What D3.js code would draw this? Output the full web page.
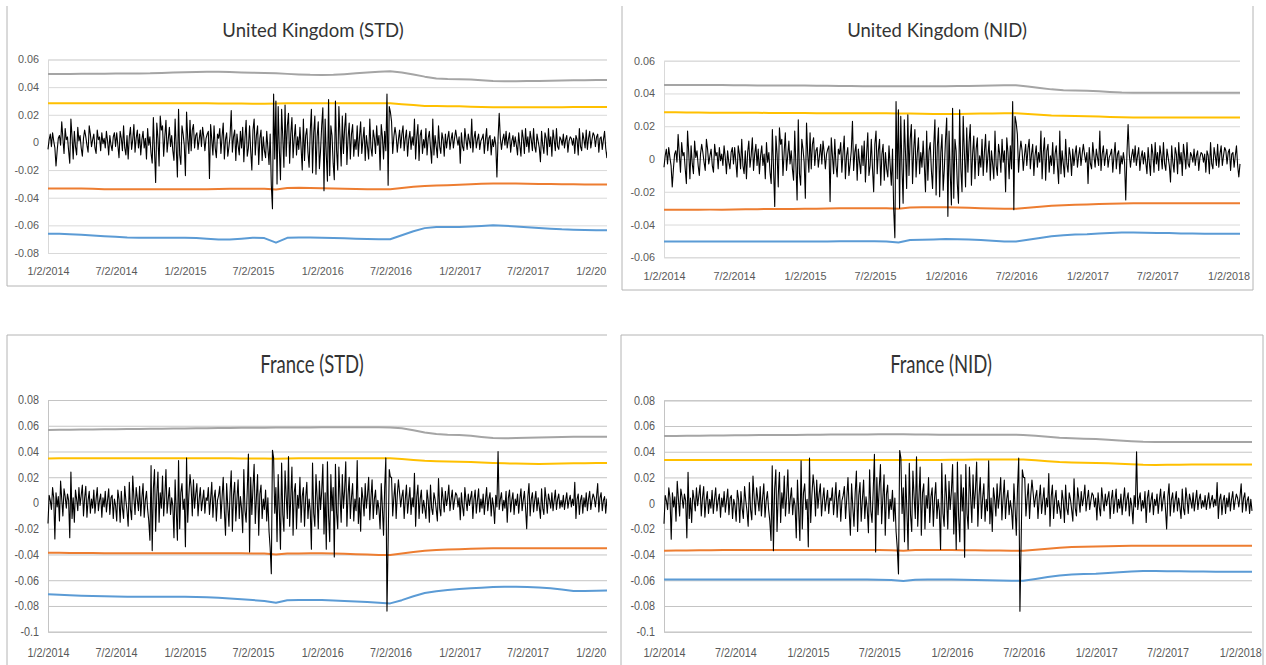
<!DOCTYPE html>
<html>
<head>
<meta charset="utf-8">
<script src="https://cdn.jsdelivr.net/npm/d3@7"></script>
<style>
  body { margin: 0; background: #fff; }
  svg { display: block; font-family: Lato, "Open Sans", sans-serif; }
</style>
</head>
<body>
<svg id="chart" width="1266" height="665"></svg>
<script>
// ---- data ----
const startDate = new Date(2014, 0, 2);
const endDate = new Date(2018, 1, 1);
const xTickLabels = ["1/2/2014", "7/2/2014", "1/2/2015", "7/2/2015", "1/2/2016",
                     "7/2/2016", "1/2/2017", "7/2/2017", "1/2/2018"];
const yTicksUkStd = [-0.08, -0.06, -0.04, -0.02, 0, 0.02, 0.04, 0.06];
const yTicksUkNid = [-0.06, -0.04, -0.02, 0, 0.02, 0.04, 0.06];
const yTicksFr = [-0.1, -0.08, -0.06, -0.04, -0.02, 0, 0.02, 0.04, 0.06, 0.08];

// daily returns (10 per month, Jan 2014 .. Jan 2018)
const ukReturns = [
  -.005, .002, .006, -.003, .007, .001, -.004, -.017, -.006, .003,
  .005, -.002, .015, .003, -.008, .010, .002, .004, -.006, -.015,
  .017, .004, -.012, .008, -.003, -.009, .011, .001, .005, -.004,
  -.010, .003, .009, .004, -.002, -.007, .012, .006, -.003, .002,
  .006, -.004, -.008, .009, .002, .004, -.006, .007, -.001, .003,
  -.004, .008, .001, -.009, .005, -.002, -.006, .004, .007, -.003,
  .007, -.002, -.011, .008, .003, -.006, .012, -.004, -.009, .005,
  -.012, .004, .011, -.005, .002, .013, -.007, .003, .009, -.004,
  .006, -.009, .002, .008, -.004, .003, -.012, .010, -.002, .004,
  -.008, -.015, .018, -.006, -.029, .014, .003, -.017, .019, .009,
  .012, -.010, .004, .016, -.007, .002, .011, -.003, .005, -.006,
  -.013, .017, -.004, -.025, .024, -.009, -.016, .012, .006, -.002,
  -.024, .022, .003, -.008, .016, -.006, .009, .013, -.004, .005,
  .007, -.005, .002, .009, -.003, .011, .004, -.006, .003, .006,
  .008, -.026, .013, .002, -.009, .012, -.004, -.011, .006, .003,
  .010, -.008, .004, .014, -.012, .002, .007, -.010, -.003, .005,
  .023, -.007, .004, .009, -.013, .006, -.002, -.009, .008, -.004,
  .011, -.014, .003, .016, -.010, -.004, .012, -.006, -.020, .009,
  .017, -.009, .005, .012, -.016, .003, .009, -.013, .004, -.006,
  -.011, .008, -.004, -.016, .006, -.031, -.048, .035, -.012, .030,
  -.030, .026, -.005, -.027, .024, .004, -.018, .027, -.010, .012,
  .021, -.015, .006, .018, -.011, .003, .013, -.009, .004, -.005,
  .011, -.004, -.020, .017, -.013, .005, .010, -.007, -.018, .008,
  .024, -.022, .007, .019, -.023, .004, .015, -.019, -.006, .012,
  .025, -.035, .017, -.009, -.028, .031, -.024, .012, .005, -.015,
  -.027, .030, -.006, -.020, .026, .004, -.017, .019, -.008, .010,
  .021, -.016, .003, .014, -.012, .006, .013, -.010, .002, -.005,
  .012, -.010, .004, .015, -.008, .002, .011, -.013, .005, -.003,
  -.012, .017, -.004, -.010, .009, .003, -.008, .012, -.002, .005,
  -.020, .013, .004, -.012, .008, -.006, .035, -.031, .026, .022,
  .015, -.008, .004, .011, .005, -.007, .002, .009, -.004, .006,
  .012, -.006, .003, .009, -.010, .002, .008, -.005, .004, -.002,
  .017, -.012, .004, .013, -.013, .005, .009, -.008, .002, -.004,
  .010, -.009, .003, .008, -.004, -.015, .017, -.009, .005, -.003,
  -.011, .012, -.003, -.008, .007, .002, -.010, .006, -.004, .003,
  .008, -.005, .002, .007, -.004, .003, .009, .003, -.002, .004,
  -.015, .007, -.003, -.006, .010, .002, -.005, .006, .001, -.004,
  .017, -.007, .003, .008, -.004, .002, .006, -.005, .001, .003,
  .006, -.008, .002, .010, -.006, .003, .005, -.009, .002, -.003,
  .004, -.002, -.025, .003, .021, .003, -.005, .002, .006, -.002,
  .008, -.004, .002, .007, -.007, .001, .005, -.003, .004, -.002,
  -.009, .007, -.002, -.010, .009, .003, -.008, .010, -.003, .004,
  -.007, .008, .002, -.006, .010, -.003, -.007, .006, .001, -.004,
  -.014, .008, -.002, -.008, .007, .003, -.009, .010, -.003, .004,
  -.010, .009, .002, -.006, .010, -.003, -.005, .004, .002, -.002,
  .006, -.004, .002, .005, -.007, .001, .004, .003, -.002, .003,
  -.008, .005, .002, -.009, .010, -.003, -.006, .007, .002, -.004,
  .009, -.005, .003, .008, -.004, .002, .007, .005, -.003, .004,
  .006, -.007, .003, .004, -.005, .002, .008, -.004, -.011, -.003
];
const frReturns = [
  -.016, .006, .002, -.005, .012, .004, -.028, .008, -.003, .005,
  -.014, .017, .003, -.010, .011, .005, -.004, .007, .002, -.027,
  .024, -.012, .004, -.015, .010, .003, -.006, .012, -.002, .006,
  .014, -.010, .004, .013, -.011, .002, .009, -.008, .003, -.004,
  .010, -.008, .003, .012, -.006, .002, .007, -.011, .004, -.003,
  .009, -.007, .002, .011, -.009, .004, .006, -.012, .003, -.002,
  -.014, .010, .003, -.015, .009, -.004, -.012, .013, .002, -.006,
  -.018, .016, -.005, -.013, .021, .004, -.009, .012, .003, -.006,
  .013, -.010, .004, .015, -.011, .002, .009, -.005, -.014, -.029,
  .029, -.037, .011, .026, -.022, .006, .024, -.015, .008, -.004,
  .021, -.010, .005, .026, -.008, .003, .012, -.009, .004, -.002,
  -.027, .018, -.006, -.029, .033, -.020, .008, .015, -.005, .003,
  -.034, .035, -.015, .006, .022, .012, -.010, .018, -.004, .007,
  .015, -.010, .003, .012, -.006, .002, .010, -.008, .004, .002,
  .012, -.009, .003, .016, -.011, .004, .010, -.014, .002, .006,
  .013, -.012, .004, .020, -.006, -.025, .015, -.003, -.018, .008,
  .025, -.022, .006, .016, -.014, .003, .018, -.012, .005, -.004,
  -.023, .026, -.006, -.015, .010, .038, -.038, .020, -.009, .012,
  .030, -.016, .004, .022, -.025, .007, .014, -.012, .003, -.005,
  .010, -.014, .004, -.022, -.035, -.055, .041, .035, -.008, .012,
  -.030, .022, -.006, -.036, .031, -.009, -.022, .025, .005, -.012,
  .036, -.018, .004, .028, -.025, .008, .015, -.020, .006, -.004,
  .020, -.015, .005, .012, -.018, .004, .016, -.012, .003, -.006,
  -.036, .031, -.008, -.018, .022, .004, -.020, .017, -.005, .009,
  .030, -.024, .008, -.036, .032, -.010, -.030, .022, -.006, .012,
  -.042, .030, -.008, -.020, .028, .005, -.015, .022, -.004, .010,
  .032, -.018, .006, .020, -.012, .004, .015, -.014, .003, -.006,
  .033, -.016, .004, -.022, .012, .003, -.010, .015, -.004, .006,
  .020, -.013, .004, .018, -.012, .003, .010, -.009, .002, -.005,
  -.020, .015, -.004, -.025, .012, .035, -.084, -.030, .026, .020,
  .020, -.010, .004, .015, -.012, .006, .018, .008, -.003, .005,
  .010, -.012, .003, .014, -.008, .002, .012, -.009, .004, -.003,
  .023, -.018, .005, .014, -.012, .003, .010, -.008, .002, -.004,
  -.012, .010, .002, -.015, .014, -.004, -.009, .008, .003, -.005,
  -.014, .019, -.004, -.010, .012, .003, -.007, .009, -.002, .004,
  .014, -.006, .003, .010, -.005, .002, .008, .006, -.003, .004,
  -.013, .008, -.003, -.010, .012, .002, -.006, .007, -.002, .004,
  .009, -.012, .003, .010, -.008, .002, .011, -.007, .003, -.004,
  .007, -.009, .002, .012, -.006, .003, .008, -.010, .004, -.002,
  -.016, .006, -.003, .040, -.005, .003, .008, -.006, .002, -.004,
  .009, -.015, .004, .010, -.007, .002, .008, -.009, .003, -.002,
  .007, -.008, .003, .011, -.006, .002, .009, -.004, -.020, .005,
  .015, -.010, .003, .008, -.007, .002, .009, -.006, .004, -.003,
  -.012, .011, -.004, -.009, .012, .003, -.008, .007, .002, -.004,
  .008, -.006, .002, .010, -.005, .003, .007, -.004, .002, -.003,
  .006, -.005, .002, .008, -.004, .002, .006, -.003, .003, -.002,
  .016, -.012, .003, .007, -.009, .002, .006, -.008, .004, -.003,
  .008, -.006, .003, .009, -.005, .002, .007, .004, -.003, .005,
  .015, -.007, .004, .008, -.006, .002, .005, -.008, .003, -.006
];

// bands, one value per month start (Jan 2014 .. Feb 2018)
const ukStdGrey = [
  .0495, .0495, .0495, .0496, .0497, .0497, .0498, .0499, .0499, .0500, .0503, .0506,
  .0508, .0510, .0512, .0511, .0509, .0506, .0504, .0502, .0500, .0496, .0492, .0489,
  .0488, .0490, .0494, .0500, .0506, .0512, .0515, .0506, .0492, .0476, .0462, .0459,
  .0458, .0455, .0450, .0445, .0443, .0443, .0444, .0445, .0447, .0448, .0449, .0450,
  .0451, .0451];
const ukStdYellow = [
  .0284, .0284, .0284, .0284, .0284, .0284, .0284, .0284, .0284, .0284, .0284, .0284,
  .0283, .0283, .0283, .0282, .0282, .0281, .0280, .0280, .0282, .0283, .0283, .0283,
  .0283, .0283, .0284, .0284, .0284, .0284, .0283, .0277, .0270, .0264, .0263, .0262,
  .0261, .0259, .0256, .0254, .0254, .0254, .0254, .0255, .0255, .0255, .0256, .0256,
  .0256, .0256];
const ukStdOrange = [
  -.0333, -.0333, -.0333, -.0334, -.0336, -.0338, -.0339, -.0339, -.0338, -.0338, -.0338, -.0338,
  -.0338, -.0338, -.0338, -.0337, -.0336, -.0335, -.0335, -.0336, -.0340, -.0330, -.0328, -.0329,
  -.0331, -.0333, -.0335, -.0337, -.0338, -.0339, -.0338, -.0330, -.0321, -.0315, -.0311, -.0309,
  -.0306, -.0302, -.0299, -.0297, -.0297, -.0298, -.0299, -.0300, -.0301, -.0302, -.0303, -.0304,
  -.0304, -.0304];
const ukStdBlue = [
  -.0660, -.0661, -.0664, -.0668, -.0673, -.0678, -.0683, -.0687, -.0689, -.0690, -.0690, -.0690,
  -.0690, -.0692, -.0697, -.0702, -.0703, -.0697, -.0690, -.0692, -.0725, -.0690, -.0688, -.0688,
  -.0690, -.0692, -.0694, -.0696, -.0698, -.0700, -.0700, -.0672, -.0643, -.0620, -.0612, -.0611,
  -.0611, -.0608, -.0604, -.0600, -.0603, -.0608, -.0614, -.0619, -.0624, -.0629, -.0632, -.0634,
  -.0636, -.0636];

const ukNidGrey = [
  .0452, .0452, .0452, .0452, .0451, .0451, .0450, .0450, .0449, .0449, .0448, .0448,
  .0448, .0447, .0447, .0446, .0445, .0444, .0444, .0444, .0444, .0444, .0444, .0444,
  .0444, .0445, .0446, .0447, .0448, .0450, .0450, .0443, .0434, .0425, .0420, .0418,
  .0416, .0413, .0409, .0406, .0405, .0405, .0405, .0405, .0405, .0405, .0405, .0405,
  .0405, .0405];
const ukNidYellow = [
  .0285, .0285, .0284, .0284, .0283, .0283, .0282, .0282, .0282, .0281, .0281, .0281,
  .0281, .0280, .0280, .0280, .0279, .0279, .0279, .0279, .0278, .0277, .0276, .0275,
  .0275, .0275, .0276, .0277, .0278, .0279, .0279, .0275, .0270, .0266, .0264, .0263,
  .0261, .0259, .0257, .0255, .0254, .0254, .0254, .0254, .0254, .0254, .0254, .0254,
  .0254, .0254];
const ukNidOrange = [
  -.0310, -.0310, -.0310, -.0310, -.0309, -.0309, -.0308, -.0307, -.0306, -.0305, -.0305, -.0305,
  -.0304, -.0303, -.0302, -.0301, -.0300, -.0300, -.0300, -.0300, -.0303, -.0296, -.0295, -.0294,
  -.0294, -.0296, -.0298, -.0300, -.0302, -.0304, -.0304, -.0298, -.0291, -.0286, -.0282, -.0280,
  -.0278, -.0275, -.0273, -.0271, -.0270, -.0270, -.0270, -.0270, -.0270, -.0270, -.0270, -.0270,
  -.0270, -.0270];
const ukNidBlue = [
  -.0504, -.0504, -.0504, -.0504, -.0504, -.0504, -.0504, -.0503, -.0503, -.0503, -.0503, -.0503,
  -.0503, -.0503, -.0503, -.0502, -.0502, -.0502, -.0502, -.0503, -.0510, -.0495, -.0493, -.0491,
  -.0489, -.0490, -.0492, -.0495, -.0499, -.0503, -.0504, -.0493, -.0482, -.0472, -.0465, -.0461,
  -.0459, -.0455, -.0452, -.0449, -.0449, -.0450, -.0451, -.0452, -.0454, -.0455, -.0456, -.0457,
  -.0457, -.0457];

const frStdGrey = [
  .0567, .0568, .0569, .0570, .0571, .0572, .0573, .0574, .0575, .0576, .0577, .0578,
  .0579, .0580, .0581, .0582, .0583, .0584, .0585, .0585, .0587, .0586, .0587, .0587,
  .0588, .0588, .0588, .0588, .0588, .0588, .0587, .0580, .0565, .0548, .0535, .0530,
  .0528, .0522, .0513, .0505, .0503, .0504, .0506, .0508, .0510, .0512, .0514, .0515,
  .0515, .0515];
const frStdYellow = [
  .0346, .0347, .0347, .0347, .0347, .0347, .0347, .0347, .0347, .0347, .0347, .0347,
  .0347, .0347, .0347, .0347, .0347, .0346, .0346, .0346, .0344, .0346, .0347, .0347,
  .0347, .0347, .0347, .0347, .0347, .0347, .0347, .0341, .0334, .0328, .0324, .0322,
  .0320, .0318, .0314, .0310, .0308, .0306, .0304, .0303, .0304, .0306, .0308, .0309,
  .0310, .0310];
const frStdOrange = [
  -.0386, -.0387, -.0388, -.0389, -.0389, -.0390, -.0390, -.0390, -.0390, -.0390, -.0390, -.0390,
  -.0390, -.0390, -.0390, -.0390, -.0391, -.0391, -.0392, -.0393, -.0400, -.0393, -.0392, -.0391,
  -.0391, -.0393, -.0395, -.0398, -.0401, -.0404, -.0404, -.0393, -.0381, -.0372, -.0366, -.0362,
  -.0359, -.0356, -.0354, -.0352, -.0352, -.0352, -.0352, -.0352, -.0352, -.0352, -.0352, -.0352,
  -.0352, -.0352];
const frStdBlue = [
  -.0710, -.0713, -.0717, -.0720, -.0722, -.0725, -.0727, -.0728, -.0728, -.0728, -.0728, -.0728,
  -.0728, -.0730, -.0733, -.0737, -.0742, -.0748, -.0754, -.0762, -.0775, -.0756, -.0754, -.0754,
  -.0754, -.0757, -.0762, -.0766, -.0770, -.0776, -.0780, -.0755, -.0725, -.0700, -.0685, -.0676,
  -.0668, -.0663, -.0658, -.0653, -.0650, -.0650, -.0652, -.0656, -.0662, -.0672, -.0684, -.0684,
  -.0681, -.0680];

const frNidGrey = [
  .0522, .0523, .0524, .0525, .0526, .0527, .0528, .0529, .0530, .0530, .0531, .0531,
  .0532, .0532, .0533, .0533, .0534, .0534, .0535, .0535, .0535, .0534, .0533, .0532,
  .0532, .0532, .0532, .0532, .0532, .0532, .0531, .0524, .0516, .0509, .0504, .0501,
  .0499, .0494, .0488, .0482, .0478, .0476, .0475, .0475, .0475, .0475, .0475, .0475,
  .0475, .0475];
const frNidYellow = [
  .0335, .0335, .0335, .0335, .0335, .0335, .0335, .0335, .0335, .0335, .0335, .0335,
  .0335, .0335, .0335, .0335, .0336, .0336, .0336, .0336, .0335, .0336, .0336, .0336,
  .0337, .0338, .0339, .0340, .0340, .0340, .0339, .0333, .0326, .0320, .0317, .0315,
  .0313, .0310, .0306, .0302, .0298, .0297, .0298, .0299, .0300, .0300, .0300, .0300,
  .0300, .0300];
const frNidOrange = [
  -.0370, -.0369, -.0368, -.0367, -.0366, -.0365, -.0365, -.0365, -.0365, -.0365, -.0365, -.0365,
  -.0365, -.0365, -.0365, -.0365, -.0365, -.0365, -.0365, -.0366, -.0370, -.0365, -.0365, -.0365,
  -.0365, -.0366, -.0367, -.0368, -.0369, -.0370, -.0370, -.0362, -.0354, -.0347, -.0342, -.0339,
  -.0337, -.0335, -.0333, -.0331, -.0331, -.0331, -.0331, -.0331, -.0331, -.0331, -.0331, -.0331,
  -.0331, -.0331];
const frNidBlue = [
  -.0593, -.0593, -.0593, -.0593, -.0593, -.0593, -.0593, -.0593, -.0593, -.0593, -.0593, -.0593,
  -.0593, -.0593, -.0593, -.0593, -.0593, -.0594, -.0595, -.0597, -.0605, -.0595, -.0593, -.0593,
  -.0593, -.0595, -.0597, -.0599, -.0601, -.0603, -.0603, -.0590, -.0575, -.0562, -.0556, -.0552,
  -.0549, -.0543, -.0537, -.0531, -.0528, -.0528, -.0529, -.0530, -.0531, -.0532, -.0533, -.0534,
  -.0534, -.0534];

// ---- layout ----
const bandColors = ["#a5a5a5", "#ffc000", "#ed7d31", "#5b9bd5"];
const parseDate = d3.timeParse("%m/%d/%Y");
const fmtDate = d3.timeFormat("%-m/%-d/%Y");
const fmtNum = d => String(Math.round(d * 100) / 100);

const panels = [
  { title: "United Kingdom (STD)", returns: ukReturns,
    bands: [ukStdGrey, ukStdYellow, ukStdOrange, ukStdBlue], yTicks: yTicksUkStd,
    left: 48, right: 608, top: 59.5, bottom: 253, clip: true,
    titleX: 313, titleY: 37, stretch: 1, grid: "#d9d9d9", xPad: 14 },
  { title: "United Kingdom (NID)", returns: ukReturns,
    bands: [ukNidGrey, ukNidYellow, ukNidOrange, ukNidBlue], yTicks: yTicksUkNid,
    left: 664, right: 1240, top: 60.7, bottom: 257.3, clip: false,
    titleX: 937, titleY: 37, stretch: 1, grid: "#d9d9d9", xPad: 15 },
  { title: "France (STD)", returns: frReturns,
    bands: [frStdGrey, frStdYellow, frStdOrange, frStdBlue], yTicks: yTicksFr,
    left: 48, right: 608, top: 400, bottom: 631.7, clip: true,
    titleX: 312, titleY: 373, stretch: 1.3, grid: "#c4c4c4", xPad: 15 },
  { title: "France (NID)", returns: frReturns,
    bands: [frNidGrey, frNidYellow, frNidOrange, frNidBlue], yTicks: yTicksFr,
    left: 664, right: 1252, top: 400.3, bottom: 631.7, clip: false,
    titleX: 941, titleY: 373, stretch: 1.3, grid: "#c4c4c4", xPad: 15 }
];

const svg = d3.select("#chart");

svg.append("defs").append("clipPath").attr("id", "cutLeft")
  .append("rect").attr("x", 0).attr("y", 0).attr("width", 607).attr("height", 665);

// chart frames (partly cropped in the original screenshot)
const frameColor = "#b4b4b4";
const frameLines = [
  [7, 6, 7, 286], [7, 286, 607, 286],
  [622, 6, 622, 290], [622, 290, 1253, 290], [1253, 6, 1253, 290],
  [7, 335, 607, 335], [7, 335, 7, 665],
  [621, 335, 1263, 335], [621, 335, 621, 665], [1263, 335, 1263, 665]
];
svg.selectAll(".frame").data(frameLines).enter().append("line")
  .attr("class", "frame")
  .attr("x1", d => d[0]).attr("y1", d => d[1])
  .attr("x2", d => d[2]).attr("y2", d => d[3])
  .attr("stroke", frameColor).attr("stroke-width", 1);

panels.forEach(p => {
  const g = svg.append("g");
  if (p.clip) g.attr("clip-path", "url(#cutLeft)");

  const x = d3.scaleTime().domain([startDate, endDate]).range([p.left, p.right]);
  const y = d3.scaleLinear()
    .domain([d3.min(p.yTicks), d3.max(p.yTicks)])
    .range([p.bottom, p.top]);

  // gridlines + y labels
  const yAxis = g.append("g")
    .attr("transform", "translate(" + p.left + ",0)")
    .call(d3.axisLeft(y).tickValues(p.yTicks).tickFormat(fmtNum)
      .tickSize(-(p.right - p.left)).tickPadding(9));
  yAxis.select(".domain").attr("stroke", p.grid);
  yAxis.selectAll(".tick line").attr("stroke", p.grid);
  yAxis.selectAll(".tick text")
    .attr("fill", "#595959").style("font-size", "10.8px")
    .attr("transform", "scale(1," + (p.stretch > 1 ? 1.15 : 1) + ")");

  // x labels
  const xAxis = g.append("g")
    .attr("transform", "translate(0," + p.bottom + ")")
    .call(d3.axisBottom(x).tickValues(xTickLabels.map(parseDate))
      .tickFormat(fmtDate).tickSize(0).tickPadding(p.xPad));
  xAxis.select(".domain").remove();
  xAxis.selectAll(".tick text")
    .attr("fill", "#595959").style("font-size", "10.8px")
    .attr("transform", "scale(1," + (p.stretch > 1 ? 1.12 : 1) + ")");

  // band lines, one point per month
  const bandDate = i => i === 0 ? startDate : d3.timeMonth.offset(new Date(2014, 0, 1), i);
  const bandLine = d3.line()
    .x((d, i) => x(bandDate(i)))
    .y(d => y(d));
  p.bands.forEach((band, k) => {
    g.append("path")
      .datum(band)
      .attr("d", bandLine)
      .attr("fill", "none")
      .attr("stroke", bandColors[k])
      .attr("stroke-width", 2)
      .attr("stroke-linejoin", "round");
  });

  // returns, spread evenly over the whole period
  const idxToDate = d3.scaleLinear().domain([0, p.returns.length - 1]).range([startDate, endDate]);
  const retLine = d3.line()
    .x((d, i) => x(idxToDate(i)))
    .y(d => y(d));
  g.append("path")
    .datum(p.returns)
    .attr("d", retLine)
    .attr("fill", "none")
    .attr("stroke", "#000")
    .attr("stroke-width", 1.1)
    .attr("stroke-linejoin", "round");

  // title
  g.append("text")
    .attr("transform", "translate(" + p.titleX + "," + p.titleY + ") scale(1," + p.stretch + ")")
    .attr("text-anchor", "middle")
    .style("font-size", "18.5px")
    .attr("fill", "#333")
    .text(p.title);
});
</script>
</body>
</html>
